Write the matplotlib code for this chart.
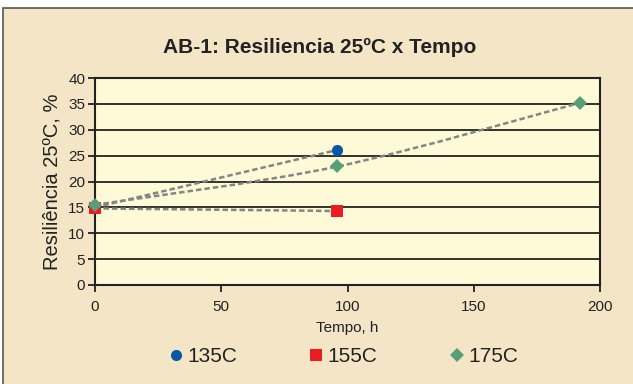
import matplotlib.pyplot as plt
import numpy as np
from matplotlib.path import Path
from matplotlib.patches import PathPatch, Rectangle
from matplotlib.lines import Line2D

plt.rcParams['font.family'] = ['Liberation Sans', 'DejaVu Sans']

# Resiliência a 25 °C (%) versus tempo de envelhecimento (h)
t_135 = [0, 96]
r_135 = [15.0, 26.1]
t_155 = [0, 96]
r_155 = [14.8, 14.3]
t_175 = [0, 96, 192]
r_175 = [15.5, 22.9, 35.2]

series = [
    ('135C', t_135, r_135, 'o', '#0758AA', 8),
    ('155C', t_155, r_155, 's', '#EC1C24', 8),
    ('175C', t_175, r_175, 'D', '#55A079', 7),
]

x_ticks = [0, 50, 100, 150, 200]
y_ticks = [0, 5, 10, 15, 20, 25, 30, 35, 40]


def smooth_path(xs, ys, k=1 / 6):
    # Bezier through the points, like a spreadsheet "smoothed line"
    xs = np.asarray(xs, float)
    ys = np.asarray(ys, float)
    n = len(xs)
    verts = [(xs[0], ys[0])]
    codes = [Path.MOVETO]
    for i in range(n - 1):
        p0 = np.array([xs[max(i - 1, 0)], ys[max(i - 1, 0)]])
        p1 = np.array([xs[i], ys[i]])
        p2 = np.array([xs[i + 1], ys[i + 1]])
        p3 = np.array([xs[min(i + 2, n - 1)], ys[min(i + 2, n - 1)]])
        c1 = p1 + (p2 - p0) * k
        c2 = p2 - (p3 - p1) * k
        verts += [tuple(c1), tuple(c2), tuple(p2)]
        codes += [Path.CURVE4] * 3
    return Path(verts, codes)


fig = plt.figure(figsize=(6.33, 3.84), dpi=100, facecolor='white')
fig.patches.append(Rectangle((3 / 633, -0.01), 1.0, 1 - 8 / 384 + 0.01,
                             transform=fig.transFigure, facecolor='#F4E5C7',
                             edgecolor='#555555', linewidth=1.2, zorder=-5))

ax = fig.add_axes([95 / 633, 1 - 285 / 384, 505 / 633, 207 / 384])
ax.set_facecolor('#FEF9D6')

for label, xs, ys, mk, col, ms in series:
    ax.add_patch(PathPatch(smooth_path(xs, ys), facecolor='none',
                           edgecolor='#858585', linewidth=1.8,
                           linestyle=(0, (2.2, 1.2)), zorder=2))
for label, xs, ys, mk, col, ms in series:
    ax.plot(xs, ys, linestyle='none', marker=mk, color=col,
            markersize=ms, markeredgewidth=0, zorder=3, clip_on=False)

ax.set_xlim(0, 200)
ax.set_ylim(0, 40)
ax.set_xticks(x_ticks)
ax.set_yticks(y_ticks)
ax.yaxis.grid(True, color='#222222', linewidth=1.3)
ax.set_axisbelow(True)
for s in ax.spines.values():
    s.set_color('#222222')
    s.set_linewidth(1.5)
ax.tick_params(direction='out', length=5, width=1.3, color='#222222',
               labelsize=11, labelcolor='#222222', pad=2)
ax.tick_params(axis='x', pad=6)

ax.set_xlabel('Tempo, h', fontsize=11, color='#222222', labelpad=5)
ax.set_ylabel('Resiliência 25ºC, %', fontsize=14.5, color='#222222', labelpad=5)
fig.text(0.505, 1 - 47 / 384, 'AB-1: Resiliencia 25ºC x Tempo', ha='center',
         va='center', fontsize=15, fontweight='bold', color='#222222')

handles = [Line2D([], [], linestyle='none', marker=mk, color=col,
                  markersize=ms, markeredgewidth=0)
           for label, xs, ys, mk, col, ms in series]
fig.legend(handles, [s[0] for s in series], loc='center',
           bbox_to_anchor=(0.54, 1 - 357 / 384), ncol=3, frameon=False,
           fontsize=15, handletextpad=0.05, columnspacing=3.3,
           handlelength=1.0, labelcolor='#222222')

fig.savefig('out.png', dpi=100)
